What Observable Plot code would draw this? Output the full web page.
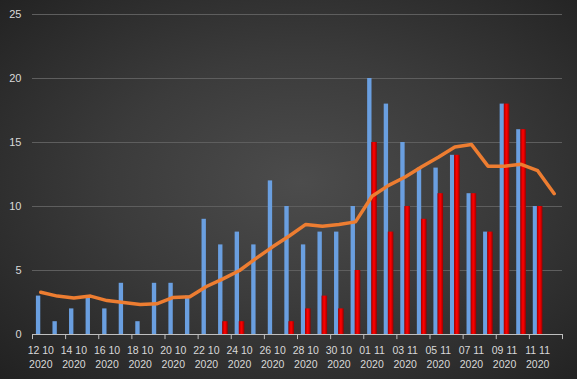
<!DOCTYPE html>
<html><head><meta charset="utf-8">
<script src="https://cdn.jsdelivr.net/npm/d3@7"></script>
<script src="https://cdn.jsdelivr.net/npm/@observablehq/plot@0.6"></script>
<style>
html,body{margin:0;padding:0;background:#2a2a2a;}
svg{display:block;}
</style>
</head><body>
<div id="chart"></div>
<script>
const days = ["12 10","13 10","14 10","15 10","16 10","17 10","18 10","19 10","20 10","21 10",
  "22 10","23 10","24 10","25 10","26 10","27 10","28 10","29 10","30 10","31 10",
  "01 11","02 11","03 11","04 11","05 11","06 11","07 11","08 11","09 11","10 11","11 11","12 11"];
const year = "2020";
const blueValues = [3,1,2,3,2,4,1,4,4,3, 9,7,8,7,12,10,7,8,8,10, 20,18,15,13,13,14,11,8,18,16,10,0];
const redValues  = [0,0,0,0,0,0,0,0,0,0, 0,1,1,0,0,1,2,3,2,5, 15,8,10,9,11,14,11,8,18,16,10,0];
const lineValues = [3.3,3.0,2.85,3.0,2.65,2.5,2.35,2.4,2.9,2.95, 3.75,4.35,5.0,5.95,6.85,7.7,8.6,8.45,8.6,8.8,
  10.8,11.65,12.3,13.1,13.85,14.65,14.85,13.15,13.15,13.3,12.8,11.0];
const yTicks = [0,5,10,15,20,25];

const blue = days.map((d,i)=>({day:d, v:blueValues[i]}));
const red = days.map((d,i)=>({day:d, v:redValues[i]}));
const line = days.map((d,i)=>({day:d, v:lineValues[i]}));
const labelDays = days.filter((d,i)=>i%2===0);

const W = 577, H = 379, mL = 32, mR = 15, mT = 14, mB = 45;
const bw = (W - mL - mR) / days.length;
const boundaryTicks = days.filter((d,i)=>i%2===0);

const chart = Plot.plot({
  width: W, height: H,
  marginLeft: mL, marginRight: mR, marginTop: mT, marginBottom: mB,
  style: {background: "radial-gradient(ellipse farthest-corner at 52% 48%, #4c4c4c 0%, #3b3b3b 45%, #212121 100%)", color: "#d9d9d9"},
  x: {type: "band", domain: days, padding: 0, round: false, axis: null},
  y: {domain: [0,25], axis: null},
  marks: [
    Plot.ruleY(yTicks.filter(t=>t>0), {stroke: "#5e5e5e", strokeWidth: 1}),
    Plot.barY(blue, {x: "day", y: "v", fill: "#6a9fe0", insetLeft: 3.9, insetRight: 8.3}),
    Plot.barY(red, {x: "day", y: "v", fill: "url(#redg)", insetLeft: 8.0, insetRight: 3.0}),
    Plot.ruleY([0], {stroke: "#bfbfbf", strokeWidth: 1}),
    Plot.ruleX(boundaryTicks, {x: d=>d, y1: 0, y2: -0.4, dx: -bw/2, stroke: "#bfbfbf"}),
    Plot.ruleX([days[days.length-1]], {x: d=>d, y1: 0, y2: -0.4, dx: bw/2, stroke: "#bfbfbf"}),
    Plot.lineY(line, {x: "day", y: "v", stroke: "#ed7d31", strokeWidth: 3.5, strokeLinejoin: "round", strokeLinecap: "round"}),
    Plot.text(yTicks, {x: () => days[0], y: d=>d, text: d=>String(d), dx: -bw/2 - 11, textAnchor: "end", fill: "#d9d9d9", fontSize: 11, fontFamily: "Liberation Sans, Arial, sans-serif"}),
    Plot.text(labelDays, {x: d=>d, y: 0, text: d=>d + "\n" + year, dy: 22, lineHeight: 1.35, fill: "#d9d9d9", fontSize: 10.5, fontFamily: "Liberation Sans, Arial, sans-serif"})
  ]
});
const ns = "http://www.w3.org/2000/svg";
const defs = document.createElementNS(ns, "defs");
defs.innerHTML = '<linearGradient id="redg" x1="0" x2="1" y1="0" y2="0"><stop offset="0" stop-color="#a00000"/><stop offset="0.45" stop-color="#ff0000"/><stop offset="0.6" stop-color="#f00000"/><stop offset="1" stop-color="#980000"/></linearGradient>';
chart.prepend(defs);
document.getElementById("chart").appendChild(chart);
</script>
</body></html>
